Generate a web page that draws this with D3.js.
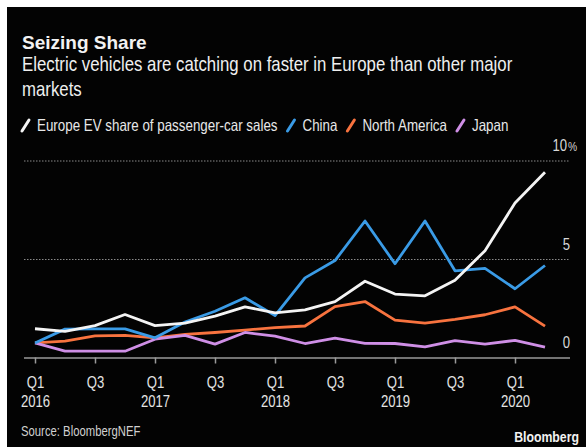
<!DOCTYPE html>
<html>
<head>
<meta charset="utf-8">
<script src="https://cdn.jsdelivr.net/npm/d3@7"></script>
<style>
  body { margin: 0; background: #fff; }
  svg { display: block; }
</style>
</head>
<body>
<div id="chart"></div>
<script>
// quarters from Q1 2016 to Q2 2020
const quarters = ['Q1 2016', 'Q2 2016', 'Q3 2016', 'Q4 2016', 'Q1 2017', 'Q2 2017', 'Q3 2017', 'Q4 2017',
    'Q1 2018', 'Q2 2018', 'Q3 2018', 'Q4 2018', 'Q1 2019', 'Q2 2019', 'Q3 2019', 'Q4 2019', 'Q1 2020', 'Q2 2020'];

// EV share of passenger-car sales, %
const europe = [1.46, 1.33, 1.62, 2.18, 1.62, 1.75, 2.1, 2.57, 2.27, 2.42, 2.84, 3.87, 3.22, 3.13, 3.92, 5.42, 7.84, 9.4];
const china = [0.74, 1.44, 1.45, 1.45, 1.0, 1.8, 2.35, 3.03, 2.13, 4.04, 4.92, 6.93, 4.76, 6.93, 4.4, 4.52, 3.49, 4.67];
const northAmerica = [0.74, 0.83, 1.1, 1.12, 1.0, 1.17, 1.27, 1.39, 1.52, 1.6, 2.58, 2.84, 1.9, 1.74, 1.93, 2.17, 2.57, 1.59];
const japan = [0.74, 0.32, 0.32, 0.32, 0.93, 1.12, 0.68, 1.27, 1.08, 0.71, 0.98, 0.72, 0.71, 0.54, 0.86, 0.68, 0.87, 0.53];

const seriesNames = ['Europe EV share of passenger-car sales', 'China', 'North America', 'Japan'];
const seriesColors = ['#f4f4f4', '#3a9be6', '#f8733f', '#cf8fe6'];
const yTicks = [0, 5, 10];
const xTickIdx = [0, 2, 4, 6, 8, 10, 12, 14, 16];

const width = 586, height = 447;
const squeeze = 0.82; // no narrow font installed, so squash Liberation Sans horizontally

const svg = d3.select('#chart').append('svg')
    .attr('width', width)
    .attr('height', height);

// add a condensed-looking text, returns its drawn width
function narrowText(parent, str, opts) {
    const g = parent.append('g')
        .attr('transform', `translate(${opts.x},${opts.y}) scale(${squeeze},1)`);
    const t = g.append('text')
        .attr('font-family', 'Liberation Sans, Arial, sans-serif')
        .attr('font-size', opts.size)
        .attr('font-weight', opts.bold ? 'bold' : 'normal')
        .attr('text-anchor', opts.anchor || 'start')
        .attr('fill', opts.fill)
        .text(str);
    return t.node().getComputedTextLength() * squeeze;
}

// frame: white top/left edge, black card
svg.append('rect').attr('width', width).attr('height', height).attr('fill', '#fff');
svg.append('rect').attr('x', 7).attr('y', 7).attr('width', width - 7).attr('height', height - 7).attr('fill', '#030303');

// titles
svg.append('text')
    .attr('x', 22).attr('y', 49)
    .attr('font-family', 'Liberation Sans, sans-serif')
    .attr('font-weight', 'bold')
    .attr('font-size', 19)
    .attr('fill', '#f2f2f2')
    .text('Seizing Share');

narrowText(svg, 'Electric vehicles are catching on faster in Europe than other major', {x: 22, y: 71, size: 20.5, fill: '#efefef'});
narrowText(svg, 'markets', {x: 22, y: 96, size: 20.5, fill: '#efefef'});

// legend
const legend = svg.append('g').attr('transform', 'translate(22,131)');
let lx = 0;
seriesNames.forEach((name, i) => {
    legend.append('line')
        .attr('x1', lx).attr('y1', 0)
        .attr('x2', lx + 7).attr('y2', -11)
        .attr('stroke', seriesColors[i])
        .attr('stroke-width', 3)
        .attr('stroke-linecap', 'round');
    const w = narrowText(legend, name, {x: lx + 15, y: 0, size: 16.3, fill: '#e8e8e8'});
    lx += 15 + w + 10;
});

// scales
const x = d3.scaleLinear().domain([0, quarters.length - 1]).range([35, 545]);
const y = d3.scaleLinear().domain([0, 10]).range([357.5, 160.5]);

const plotLeft = 24, plotRight = 570;

// gridlines
const yAxis = svg.append('g')
    .attr('transform', `translate(${plotLeft},0)`)
    .call(d3.axisRight(y).tickValues(yTicks).tickSize(plotRight - plotLeft).tickFormat(''));
yAxis.select('.domain').remove();
yAxis.selectAll('.tick line')
    .attr('stroke', '#8a8a8a')
    .attr('stroke-dasharray', '1.5,1.5')
    .attr('stroke-width', d => d === 0 ? 0 : 1);
// y labels sit above the gridline, numbers right-aligned
yAxis.selectAll('.tick').each(function(d) {
    const g = d3.select(this);
    if (d === 10) {
        narrowText(g, String(d), {x: plotRight - plotLeft - 3, y: -10, size: 16, anchor: 'end', fill: '#d8d8d8'});
        narrowText(g, '%', {x: plotRight - plotLeft - 2, y: -10, size: 12.5, fill: '#d8d8d8'});
    } else {
        narrowText(g, String(d), {x: plotRight - plotLeft, y: -10, size: 16, anchor: 'end', fill: '#d8d8d8'});
    }
});

// x axis
const xAxis = svg.append('g')
    .attr('transform', `translate(0,${y(0)})`)
    .call(d3.axisBottom(x).tickValues(xTickIdx).tickSize(6).tickFormat(''));
xAxis.select('.domain')
    .attr('d', `M${plotLeft},0.5H${plotRight}`)
    .attr('stroke', '#9a9a9a')
    .attr('stroke-width', 1.5);
xAxis.selectAll('.tick line').attr('stroke', '#9a9a9a').attr('stroke-width', 1.5);
xAxis.selectAll('.tick').each(function(d) {
    const parts = quarters[d].split(' ');
    const g = d3.select(this);
    narrowText(g, parts[0], {x: 0, y: 30.5, size: 16, anchor: 'middle', fill: '#e4e4e4'});
    if (parts[0] === 'Q1') {
        narrowText(g, parts[1], {x: 0, y: 49.5, size: 16, anchor: 'middle', fill: '#e4e4e4'});
    }
});

// lines
const line = d3.line()
    .x((d, i) => x(i))
    .y(d => y(d));

const seriesData = [europe, china, northAmerica, japan];
[2, 3, 1, 0].forEach(k => {
    svg.append('path')
        .datum(seriesData[k])
        .attr('fill', 'none')
        .attr('stroke', seriesColors[k])
        .attr('stroke-width', 2.8)
        .attr('stroke-linejoin', 'round')
        .attr('d', line);
});

// footer
narrowText(svg, 'Source: BloombergNEF', {x: 21, y: 436, size: 13.8, fill: '#d0d0d0'});
narrowText(svg, 'Bloomberg', {x: 579, y: 442, size: 15, bold: true, anchor: 'end', fill: '#f2f2f2'});
</script>
</body>
</html>
